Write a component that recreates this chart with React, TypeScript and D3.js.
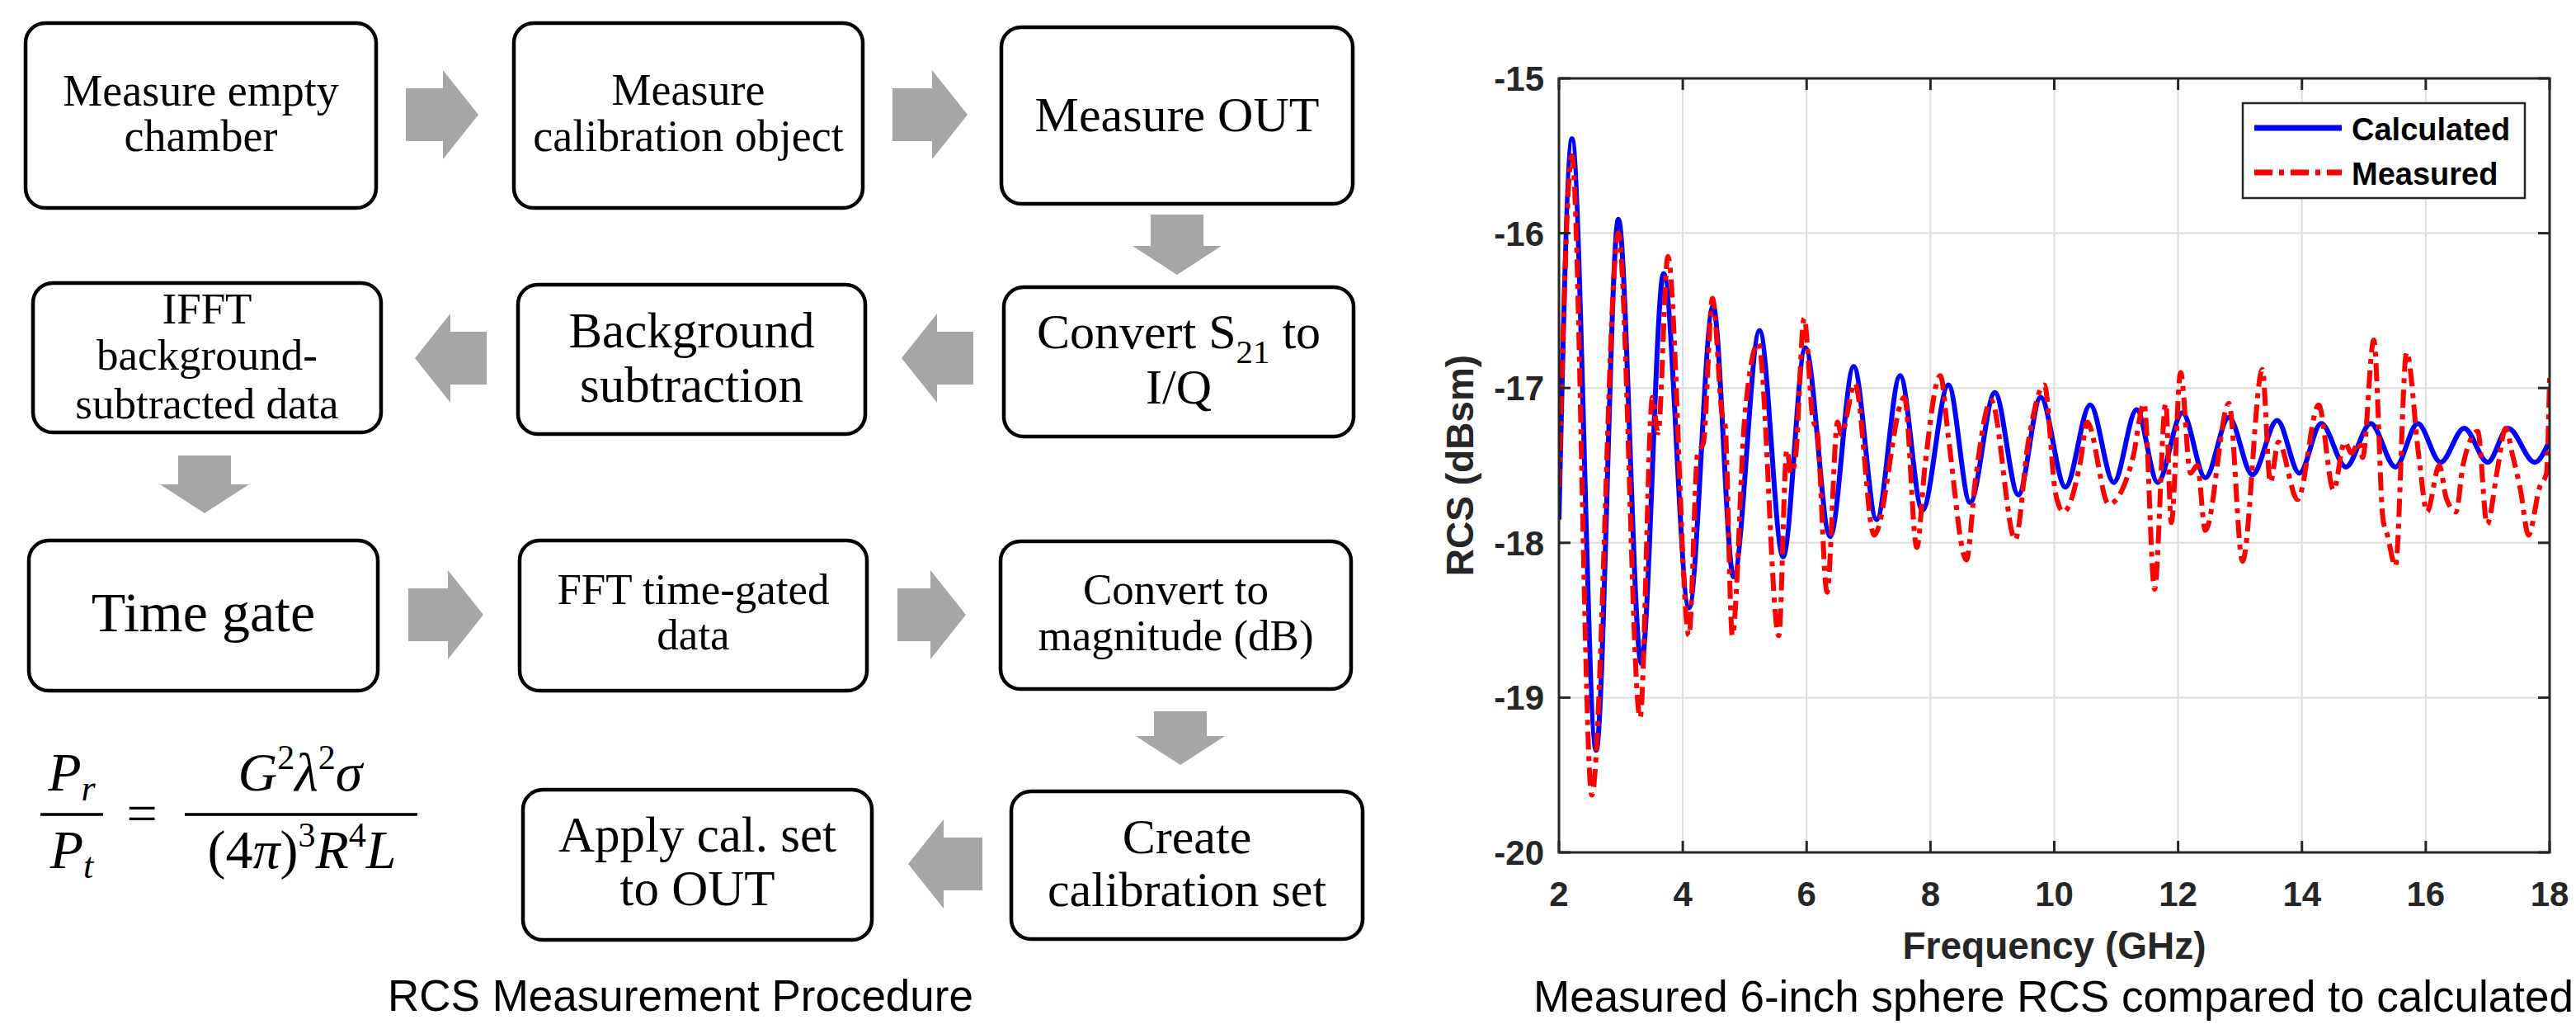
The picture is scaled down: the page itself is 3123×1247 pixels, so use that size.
import React from "react"
import * as d3 from "d3"

const W = 3123
const H = 1247

// ---- chart data ----
const calcFreq = [2.0, 2.21, 2.6, 2.96, 3.33, 3.69, 4.1, 4.49, 4.82, 5.24, 5.62, 5.98, 6.38, 6.76, 7.13, 7.51, 7.87, 8.29, 8.64, 9.04, 9.42, 9.78, 10.18, 10.58, 10.96, 11.33, 11.67, 12.07, 12.44, 12.82, 13.2, 13.6, 13.96, 14.31, 14.71, 15.11, 15.51, 15.87, 16.24, 16.62, 17.0, 17.33, 17.76, 18.0]
const calcRcs = [-17.85, -15.39, -19.34, -15.91, -18.78, -16.26, -18.42, -16.47, -18.22, -16.63, -18.09, -16.74, -17.96, -16.86, -17.85, -16.92, -17.79, -16.98, -17.74, -17.03, -17.69, -17.06, -17.64, -17.11, -17.61, -17.14, -17.61, -17.16, -17.58, -17.19, -17.56, -17.21, -17.55, -17.23, -17.51, -17.23, -17.51, -17.23, -17.48, -17.26, -17.48, -17.26, -17.48, -17.34]

const measFreq = [2.0, 2.21, 2.53, 2.96, 3.31, 3.51, 3.6, 3.76, 4.1, 4.24, 4.33, 4.48, 4.64, 4.68, 4.8, 5.0, 5.22, 5.55, 5.68, 5.75, 5.82, 5.96, 6.1, 6.17, 6.33, 6.5, 6.56, 6.78, 7.09, 7.58, 7.78, 7.91, 8.16, 8.29, 8.58, 8.73, 8.98, 9.37, 9.58, 9.84, 10.02, 10.15, 10.42, 10.53, 10.88, 11.27, 11.45, 11.62, 11.8, 11.89, 12.04, 12.2, 12.31, 12.44, 12.82, 13.04, 13.36, 13.49, 13.62, 13.93, 14.27, 14.51, 14.69, 14.8, 14.92, 14.98, 15.16, 15.31, 15.38, 15.51, 15.69, 15.89, 16.02, 16.22, 16.33, 16.49, 16.6, 16.84, 16.99, 17.16, 17.29, 17.4, 17.53, 17.66, 17.84, 17.95, 18.0]
const measRcs = [-17.64, -15.5, -19.63, -16.0, -19.13, -17.06, -17.29, -16.15, -18.6, -17.42, -17.36, -16.42, -17.18, -17.22, -18.6, -17.19, -16.71, -18.6, -17.4, -17.55, -17.45, -16.55, -17.2, -17.28, -18.32, -17.22, -17.3, -16.97, -17.95, -17.06, -18.03, -17.51, -16.92, -17.32, -18.11, -17.58, -17.08, -17.98, -17.35, -16.98, -17.68, -17.8, -17.48, -17.22, -17.75, -17.45, -17.1, -18.3, -17.1, -17.87, -16.9, -17.55, -17.5, -17.92, -17.1, -18.12, -16.88, -17.61, -17.35, -17.72, -17.11, -17.66, -17.35, -17.42, -17.35, -17.45, -16.69, -17.85, -17.95, -18.15, -16.77, -17.45, -17.8, -17.5, -17.71, -17.8, -17.5, -17.28, -17.88, -17.52, -17.26, -17.43, -17.66, -17.95, -17.64, -17.55, -16.92]

const xTicks = [2, 4, 6, 8, 10, 12, 14, 16, 18]
const yTicks = [-20, -19, -18, -17, -16, -15]
const seriesNames = ["Calculated", "Measured"]

// ---- flowchart steps ----
const stepLines = [
  ["Measure empty", "chamber"],
  ["Measure", "calibration object"],
  ["Measure OUT"],
  ["IFFT", "background-", "subtracted data"],
  ["Background", "subtraction"],
  ["Convert S_21 to", "I/Q"],
  ["Time gate"],
  ["FFT time-gated", "data"],
  ["Convert to", "magnitude (dB)"],
  ["Apply cal. set", "to OUT"],
  ["Create", "calibration set"],
]

// box [x0, y0, x1, y1], font size, line baselines
const stepLayout: [number[], number, number[]][] = [
  [[31, 28, 456, 252], 54, [128, 183]],
  [[623, 28, 1046, 252], 54, [127, 183]],
  [[1214, 33, 1640, 247], 60, [159]],
  [[40, 343, 462, 524], 53, [392, 448, 507]],
  [[628, 345, 1049, 526], 61, [421, 487]],
  [[1217, 348, 1641, 529], 60, [422, 489]],
  [[35, 655, 458, 837], 68, [765]],
  [[630, 655, 1051, 837], 53, [732, 787]],
  [[1213, 656, 1638, 835], 53, [732, 788]],
  [[634, 957, 1057, 1139], 61, [1032, 1097]],
  [[1226, 959, 1652, 1138], 60, [1034, 1098]],
]

// block arrows: tail -> tip
const arrows = [
  [492, 139, 580, 139],
  [1082, 139, 1173, 139],
  [1427, 260, 1427, 333],
  [1180, 434, 1093, 434],
  [590, 434, 503, 434],
  [248, 552, 248, 622],
  [495, 745, 586, 745],
  [1088, 745, 1171, 745],
  [1431, 862, 1431, 927],
  [1191, 1047, 1101, 1047],
]

function arrowPath(a: number[]) {
  const [tx, ty, px, py] = a
  const len = Math.hypot(px - tx, py - ty)
  const ux = (px - tx) / len, uy = (py - ty) / len
  const nx = -uy, ny = ux
  const vertical = Math.abs(uy) > 0.5
  const hl = vertical ? 35 : 43
  const bw = 32, hw = 54
  const bx = px - ux * hl, by = py - uy * hl
  const pts = [
    [tx + nx * bw, ty + ny * bw],
    [bx + nx * bw, by + ny * bw],
    [bx + nx * hw, by + ny * hw],
    [px, py],
    [bx - nx * hw, by - ny * hw],
    [bx - nx * bw, by - ny * bw],
    [tx - nx * bw, ty - ny * bw],
  ]
  return "M" + pts.map((p) => p.join(",")).join("L") + "Z"
}

function StepText({ line, x, y, fs }: { line: string; x: number; y: number; fs: number }) {
  if (line.includes("_21")) {
    const [a, b] = line.split("_21")
    return (
      <text x={x} y={y} fontSize={fs} textAnchor="middle">
        {a}
        <tspan fontSize={fs * 0.68} dy={18}>21</tspan>
        <tspan dy={-18}>{b}</tspan>
      </text>
    )
  }
  return (
    <text x={x} y={y} fontSize={fs} textAnchor="middle">
      {line}
    </text>
  )
}

function Flowchart() {
  return (
    <g fontFamily="'Liberation Serif', 'Times New Roman', serif" fill="#000">
      {arrows.map((a, i) => (
        <path key={"a" + i} d={arrowPath(a)} fill="#a6a6a6" />
      ))}
      {stepLayout.map(([b, fs, baselines], i) => (
        <g key={"s" + i}>
          <rect x={b[0]} y={b[1]} width={b[2] - b[0]} height={b[3] - b[1]} rx={24} ry={24}
            fill="#fff" stroke="#000" strokeWidth={4.5} />
          {stepLines[i].map((ln, j) => (
            <StepText key={j} line={ln} x={(b[0] + b[2]) / 2} y={baselines[j]} fs={fs} />
          ))}
        </g>
      ))}
      {/* radar equation */}
      <g fontStyle="italic" fontSize={66}>
        <text x={87} y={958} textAnchor="middle">P<tspan fontSize={44} dy={12}>r</tspan></text>
        <line x1={49} x2={125} y1={987} y2={987} stroke="#000" strokeWidth={3.5} />
        <text x={87} y={1052} textAnchor="middle">P<tspan fontSize={44} dy={12}>t</tspan></text>
        <text x={172} y={1008} textAnchor="middle" fontStyle="normal">=</text>
        <text x={364} y={958} textAnchor="middle">
          G<tspan fontSize={42} dy={-26} fontStyle="normal">2</tspan>
          <tspan dy={26}>λ</tspan>
          <tspan fontSize={42} dy={-26} fontStyle="normal">2</tspan>
          <tspan dy={26}>σ</tspan>
        </text>
        <line x1={224} x2={506} y1={987} y2={987} stroke="#000" strokeWidth={3.5} />
        <text x={366} y={1052} textAnchor="middle">
          <tspan fontStyle="normal">(4</tspan>π<tspan fontStyle="normal">)</tspan>
          <tspan fontSize={42} dy={-26} fontStyle="normal">3</tspan>
          <tspan dy={26}>R</tspan>
          <tspan fontSize={42} dy={-26} fontStyle="normal">4</tspan>
          <tspan dy={26}>L</tspan>
        </text>
      </g>
    </g>
  )
}

function RcsChart() {
  const x = d3.scaleLinear().domain([2, 18]).range([1890, 3091])
  const y = d3.scaleLinear().domain([-20, -15]).range([1033, 95])
  const [x0, x1] = x.range()
  const [y0, y1] = [y(-15), y(-20)]

  const line = d3.line<[number, number]>()
    .x((d) => x(d[0]))
    .y((d) => y(d[1]))
    .curve(d3.curveMonotoneX)

  const calc = calcFreq.map((f, i) => [f, calcRcs[i]] as [number, number])
  const meas = measFreq.map((f, i) => [f, measRcs[i]] as [number, number])
  const axisColor = "#262626"
  const dash = "22 8 6 8"

  return (
    <g fontFamily="'Liberation Sans', Arial, sans-serif">
      <defs>
        <clipPath id="plot-clip">
          <rect x={x0} y={y0} width={x1 - x0} height={y1 - y0} />
        </clipPath>
      </defs>
      <rect x={x0} y={y0} width={x1 - x0} height={y1 - y0} fill="#fff" />
      {/* grid */}
      {xTicks.slice(1, -1).map((t) => (
        <line key={"gx" + t} x1={x(t)} x2={x(t)} y1={y0} y2={y1} stroke="#dcdcdc" strokeWidth={2} />
      ))}
      {yTicks.slice(1, -1).map((t) => (
        <line key={"gy" + t} x1={x0} x2={x1} y1={y(t)} y2={y(t)} stroke="#dcdcdc" strokeWidth={2} />
      ))}
      {/* series */}
      <g clipPath="url(#plot-clip)">
        <path d={line(calc) || ""} fill="none" stroke="#0000ff" strokeWidth={6} strokeLinejoin="round" />
        <path d={line(meas) || ""} fill="none" stroke="#ff0000" strokeWidth={6} strokeDasharray={dash} />
      </g>
      {/* axes box and ticks */}
      <rect x={x0} y={y0} width={x1 - x0} height={y1 - y0} fill="none" stroke={axisColor} strokeWidth={3} />
      {xTicks.map((t) => (
        <g key={"tx" + t}>
          <line x1={x(t)} x2={x(t)} y1={y1} y2={y1 - 14} stroke={axisColor} strokeWidth={3} />
          <line x1={x(t)} x2={x(t)} y1={y0} y2={y0 + 14} stroke={axisColor} strokeWidth={3} />
          <text x={x(t)} y={1098} fontSize={42} fontWeight="bold" textAnchor="middle" fill={axisColor}>{t}</text>
        </g>
      ))}
      {yTicks.map((t) => (
        <g key={"ty" + t}>
          <line x1={x0} x2={x0 + 14} y1={y(t)} y2={y(t)} stroke={axisColor} strokeWidth={3} />
          <line x1={x1} x2={x1 - 14} y1={y(t)} y2={y(t)} stroke={axisColor} strokeWidth={3} />
          <text x={1872} y={y(t) + 15} fontSize={42} fontWeight="bold" textAnchor="end" fill={axisColor}>{t}</text>
        </g>
      ))}
      <text x={(x0 + x1) / 2} y={1162} fontSize={46} fontWeight="bold" textAnchor="middle" fill={axisColor}>
        Frequency (GHz)
      </text>
      <text transform={`translate(1786,${(y0 + y1) / 2}) rotate(-90)`} fontSize={46} fontWeight="bold"
        textAnchor="middle" fill={axisColor}>
        RCS (dBsm)
      </text>
      {/* legend */}
      <rect x={2719} y={125} width={342} height={115} fill="#fff" stroke={axisColor} strokeWidth={2.5} />
      <line x1={2733} x2={2839} y1={155} y2={155} stroke="#0000ff" strokeWidth={7} />
      <line x1={2733} x2={2839} y1={209} y2={209} stroke="#ff0000" strokeWidth={7} strokeDasharray={dash} />
      <text x={2851} y={170} fontSize={38} fontWeight="bold" fill="#000">{seriesNames[0]}</text>
      <text x={2851} y={224} fontSize={38} fontWeight="bold" fill="#000">{seriesNames[1]}</text>
    </g>
  )
}

export default function App() {
  return (
    <svg width={W} height={H} viewBox={`0 0 ${W} ${H}`}
      style={{ position: "absolute", left: 0, top: 0, background: "#fff" }}>
      <rect width={W} height={H} fill="#fff" />
      <Flowchart />
      <RcsChart />
      <g fontFamily="'Liberation Sans', Arial, sans-serif" fontSize={53} fill="#000">
        <text x={825} y={1225} textAnchor="middle">RCS Measurement Procedure</text>
        <text x={1859} y={1226}>Measured 6-inch sphere RCS compared to calculated</text>
      </g>
    </svg>
  )
}
